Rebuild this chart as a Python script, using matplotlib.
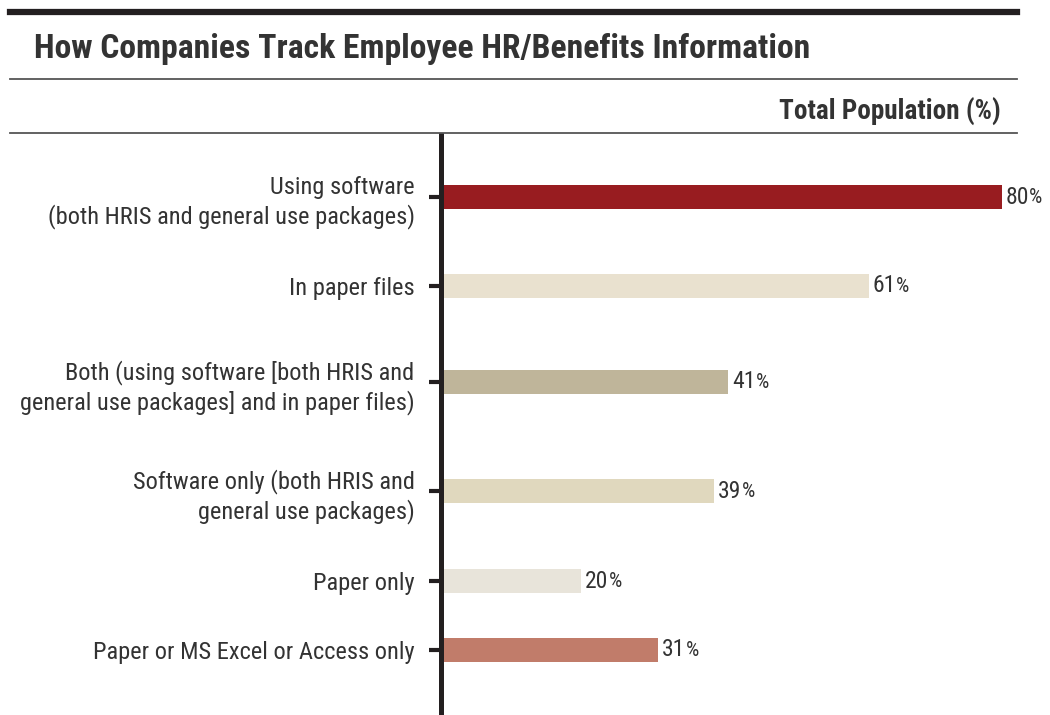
import matplotlib.pyplot as plt
from matplotlib.lines import Line2D
from matplotlib import font_manager

installed = {f.name for f in font_manager.fontManager.ttflist}
narrow = [n for n in ['Roboto Condensed', 'Open Sans Condensed', 'Liberation Sans Narrow']
          if n in installed]
plt.rcParams['font.family'] = narrow[:1] + ['Roboto', 'DejaVu Sans']

categories = [
    'Using software\n(both HRIS and general use packages)',
    'In paper files',
    'Both (using software [both HRIS and\ngeneral use packages] and in paper files)',
    'Software only (both HRIS and\ngeneral use packages)',
    'Paper only',
    'Paper or MS Excel or Access only',
]
values = [80, 61, 41, 39, 20, 31]
colors = ['#981c20', '#e9e1cf', '#bfb59a', '#e0d8be', '#e8e4da', '#c17c6a']

# vertical row centres, in pixels from the top of the figure
rows = [197, 286, 382, 491, 581, 650]

W, H = 1050, 715
ink = '#231f20'
txt = '#333333'
fig = plt.figure(figsize=(W / 100, H / 100), dpi=100)

def hline(y, lw, c=ink):
    fig.add_artist(Line2D([10 / W, 1017 / W], [1 - y / H, 1 - y / H], lw=lw, color=c,
                          transform=fig.transFigure))

hline(12, 4.5)
hline(79, 1.3, '#555555')
hline(133, 1.3, '#555555')

fig.text(34 / W, 1 - 49 / H, 'How Companies Track Employee HR/Benefits Information',
         fontsize=24.2, fontweight='bold', color=txt, va='center', ha='left')
fig.text(1001 / W, 1 - 112 / H, 'Total Population (%)',
         fontsize=19.5, fontweight='bold', color=txt, va='center', ha='right')

left = 441
ax = fig.add_axes([left / W, 0, 1 - left / W, 1 - 135 / H])
ax.set_xlim(0, (W - left) / 7.01)
ax.set_ylim(H, 135)

ax.barh(rows, values, height=24, color=colors, left=0)
for y, v in zip(rows, values):
    t = ax.text(v + 0.55, y, f'{v}', fontsize=17, color=txt, va='center', ha='left')
    ax.annotate('%', xy=(1, 0.08), xycoords=t, fontsize=15, color=txt,
                va='bottom', ha='left')

ax.set_yticks(rows)
ax.set_yticklabels(categories, fontsize=17.6, color=txt, linespacing=1.25)
ax.set_xticks([])
for s in ['top', 'right', 'bottom']:
    ax.spines[s].set_visible(False)
ax.spines['left'].set_linewidth(3.6)
ax.spines['left'].set_color(ink)
ax.tick_params(axis='y', direction='out', length=9, width=3, color=ink, pad=10)

fig.savefig('out.png', dpi=100)
